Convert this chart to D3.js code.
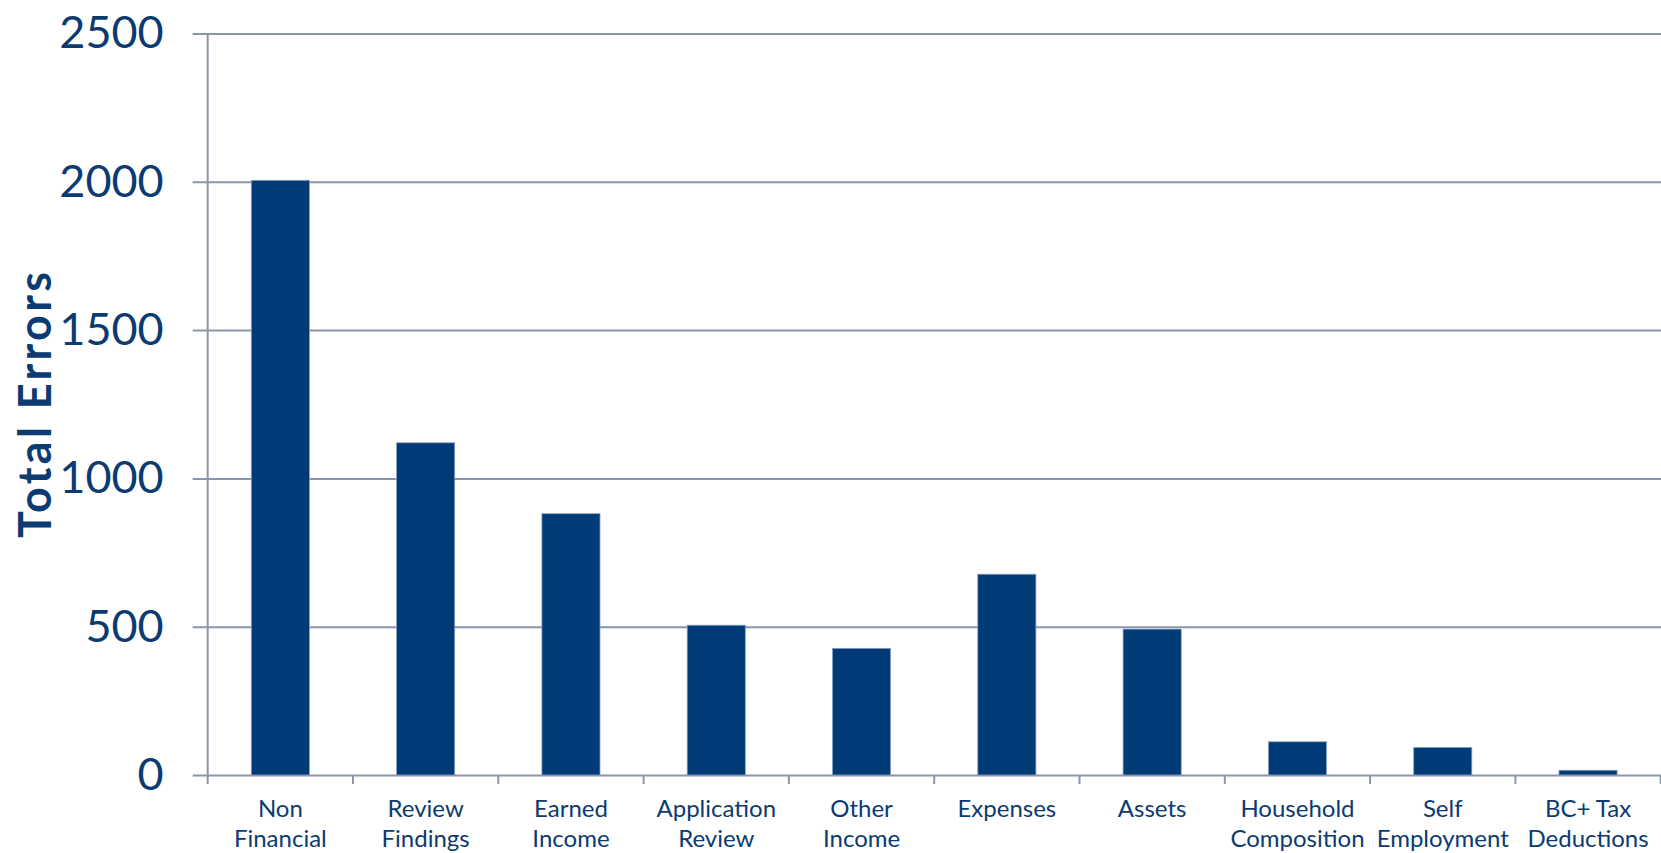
<!DOCTYPE html>
<html>
<head>
<meta charset="utf-8">
<script src="https://cdn.jsdelivr.net/npm/d3@7"></script>
<style>
  html, body { margin: 0; padding: 0; background: #fff; }
  svg { display: block; }
</style>
</head>
<body>
<svg id="chart" width="1661" height="853"></svg>
<script>
const categories = [
  ["Non", "Financial"],
  ["Review", "Findings"],
  ["Earned", "Income"],
  ["Application", "Review"],
  ["Other", "Income"],
  ["Expenses"],
  ["Assets"],
  ["Household", "Composition"],
  ["Self", "Employment"],
  ["BC+ Tax", "Deductions"]
];
const totalErrors = [2005, 1120, 881, 505, 427, 677, 492, 112, 93, 16];
const yTicks = [0, 500, 1000, 1500, 2000, 2500];
const yTitle = "Total Errors";

(function () {
const W = 1661, H = 853;
const plotLeft = 207.7, plotRight = 1660.7, plotTop = 33.5, plotBottom = 775;
const textColor = "#0b3b71";
const barColor = "#003b78";
const gridColor = "#8d95ad";
const font = "Lato, 'Open Sans', sans-serif";

const keys = categories.map(c => c.join(" "));
const svg = d3.select("#chart");

const x = d3.scaleBand().domain(keys).range([plotLeft, plotRight]).padding(0);
const y = d3.scaleLinear().domain([0, 2500]).range([plotBottom, plotTop]);

// Y axis with gridlines
const yAxis = svg.append("g")
  .attr("transform", `translate(${plotLeft - 15},0)`)
  .call(d3.axisLeft(y).tickValues(yTicks).tickFormat(d3.format("d"))
    .tickSize(-(W - plotLeft + 15)).tickPadding(29));
yAxis.select(".domain").remove();
yAxis.selectAll(".tick line").attr("stroke", gridColor).attr("stroke-width", 2);
yAxis.selectAll(".tick text")
  .attr("fill", textColor)
  .style("font-family", font)
  .style("font-size", "45px");

// vertical axis line
svg.append("line")
  .attr("x1", plotLeft).attr("x2", plotLeft)
  .attr("y1", y(2500)).attr("y2", plotBottom + 9)
  .attr("stroke", gridColor).attr("stroke-width", 2);

// bottom tick marks at band boundaries
const bounds = keys.map(k => x(k)).concat([x.range()[1]]);
svg.append("g").selectAll("line").data(bounds.slice(1)).join("line")
  .attr("x1", d => d).attr("x2", d => d)
  .attr("y1", plotBottom).attr("y2", plotBottom + 9)
  .attr("stroke", gridColor).attr("stroke-width", 2);

// bars
const barW = x.bandwidth() * 0.4;
svg.append("g").selectAll("rect").data(totalErrors).join("rect")
  .attr("x", (d, i) => x(keys[i]) + (x.bandwidth() - barW) / 2)
  .attr("width", barW)
  .attr("y", d => y(d))
  .attr("height", d => y(0) - y(d))
  .attr("fill", barColor)
  .attr("stroke", "#8aa0c0")
  .attr("stroke-width", 0.8);

// x labels
const xAxis = svg.append("g")
  .attr("transform", `translate(0,${plotBottom})`)
  .call(d3.axisBottom(x).tickSize(0).tickFormat(""));
xAxis.select(".domain").remove();
xAxis.selectAll(".tick").each(function(d, i) {
  const t = d3.select(this).append("text")
    .attr("fill", textColor)
    .attr("text-anchor", "middle")
    .style("font-family", font)
    .style("font-size", "24px");
  categories[i].forEach((line, j) => {
    t.append("tspan").attr("x", 0).attr("y", 41.5 + j * 30).text(line);
  });
});

// y title
svg.append("text")
  .attr("transform", `translate(51,405) rotate(-90)`)
  .attr("text-anchor", "middle")
  .attr("fill", textColor)
  .style("font-family", font)
  .style("font-weight", "bold")
  .style("font-size", "45px")
  .attr("textLength", 266)
  .attr("lengthAdjust", "spacing")
  .text(yTitle);
})();
</script>
</body>
</html>
